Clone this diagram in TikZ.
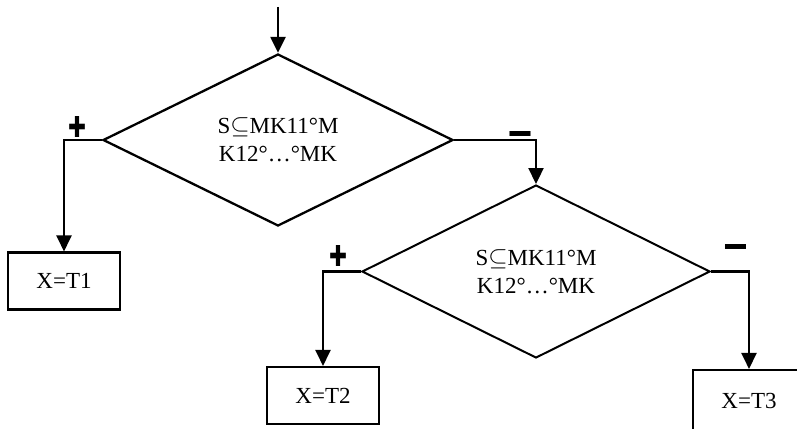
\documentclass[tikz,border=0pt]{standalone}
\usepackage{fontspec}
\usepackage{graphicx}
\setmainfont{Liberation Serif}
\newfontfamily\symfont{DejaVu Sans}
\usetikzlibrary{shapes.geometric,arrows.meta}

\tikzset{
  line/.style={line width=2.3pt, draw=black},
  flow/.style={line, -{Triangle[width=15pt,length=16pt]}},
  decision/.style={diamond, draw, line width=2.3pt, aspect=2, inner sep=0pt,
    align=center, font=\fontsize{23}{28}\selectfont},
  result/.style={rectangle, draw, line width=2.1pt, minimum width=112pt,
    minimum height=57pt, inner sep=0pt, font=\fontsize{23}{25}\selectfont},
  sign/.style={inner sep=0pt, text=black},
}
\newcommand{\plussign}{\resizebox{18pt}{21pt}{\symfont ✚}}
\newcommand{\minussign}{\resizebox{26pt}{6pt}{\symfont ▬}}

\begin{document}
\begin{tikzpicture}[x=1pt, y=-1pt]
  \begin{scope}
    \clip (0,0) rectangle (797,428);

    % decisions
    \node[decision, minimum width=350pt, minimum height=172pt] (d1) at (278,140)
      {S$\subseteq$MK11°M\\K12°…°MK};
    \node[decision, line width=2pt, minimum width=348pt, minimum height=173pt] (d2) at (536,271.5)
      {S$\subseteq$MK11°M\\K12°…°MK};

    % results
    \node[result] (t1) at (64,281) {X=T1};
    \node[result] (t2) at (323,395.5) {X=T2};
    \node[result, minimum height=62pt] (t3) at (749,401) {X=T3};

    % entry
    \coordinate (start) at (278,7);
    \draw[flow] (start) -- (d1.north);

    % branches
    \draw[flow] (d1.west) -| (t1.north);
    \draw[flow] (d1.east) -| (d2.north);
    \draw[flow] (d2.west) -| (t2.north);
    \draw[flow] (d2.east) -| (t3.north);

    % branch signs
    \node[sign] (p1) at (77.5,127) {\plussign};
    \node[sign] (m1) at (520,134.5) {\minussign};
    \node[sign] (p2) at (338,256) {\plussign};
    \node[sign] (m2) at (735.5,247) {\minussign};
  \end{scope}
  \pgfresetboundingbox
  \useasboundingbox (0,0) rectangle (797,428);
\end{tikzpicture}
\end{document}
